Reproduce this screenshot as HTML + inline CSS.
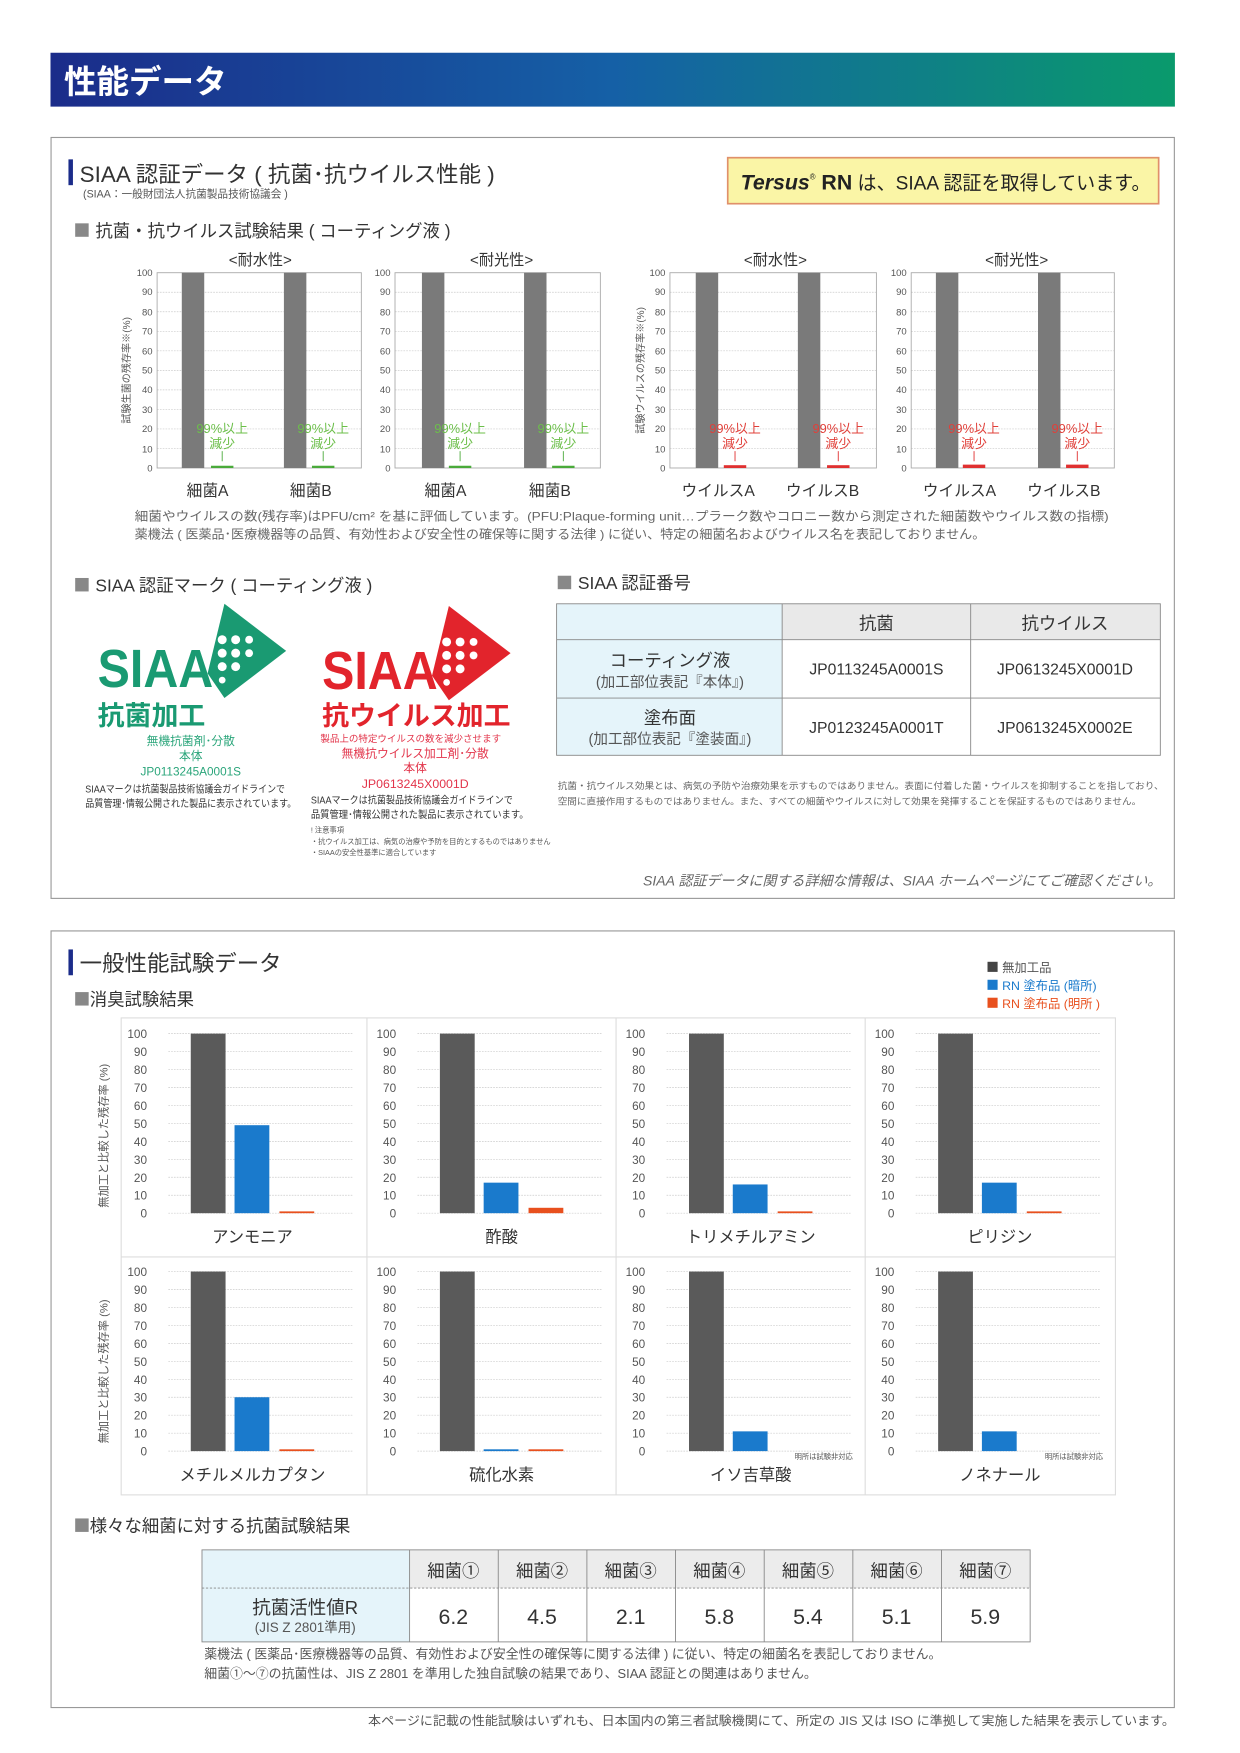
<!DOCTYPE html>
<html><head><meta charset="utf-8"><style>
html,body{margin:0;padding:0;background:#fff;}
svg{display:block;font-family:"Liberation Sans","Noto Sans CJK JP",sans-serif;}
.t{fill:#333}.g{fill:#555}.s{fill:#666}
.grid line{stroke:#ccc;stroke-width:0.6;stroke-dasharray:1.5 1}
</style></head><body>
<svg width="1240" height="1753" viewBox="0 0 1105 1562" preserveAspectRatio="none" xmlns="http://www.w3.org/2000/svg">
<defs>
<linearGradient id="hg" x1="0" x2="1" y1="0" y2="0"><stop offset="0" stop-color="#1b2c8a"/><stop offset="0.5" stop-color="#1560a6"/><stop offset="1" stop-color="#0a9a6c"/></linearGradient>
</defs>
<rect width="1105" height="1562" fill="#fff"/>
<rect x="45" y="47" width="1002" height="48" fill="url(#hg)"/>
<text x="57" y="83" font-size="29" fill="#fff" font-weight="bold">性能データ</text>

<rect x="45.5" y="122.5" width="1001" height="678" fill="none" stroke="#999" stroke-width="1"/>
<rect x="61" y="142" width="4" height="23" fill="#1b2c8a"/>
<text x="71" y="162" font-size="20" class="t">SIAA 認証データ ( 抗菌･抗ウイルス性能 )</text>
<text x="74" y="176" font-size="9.5" class="g">(SIAA：一般財団法人抗菌製品技術協議会 )</text>
<rect x="648.5" y="140.5" width="384" height="41" fill="#faf5a6" stroke="#e0906a" stroke-width="1.5"/>
<text x="660" y="169" font-size="19" fill="#222"><tspan font-weight="bold" font-style="italic">Tersus</tspan><tspan font-size="7" dy="-9">®</tspan><tspan dy="9" font-weight="bold"> RN</tspan><tspan font-size="17"> は、SIAA 認証を取得しています。</tspan></text>
<rect x="67" y="199" width="12" height="12" fill="#888"/>
<text x="85" y="211" font-size="15.5" class="t">抗菌・抗ウイルス試験結果 ( コーティング液 )</text>

<g font-size="13.5" class="t" text-anchor="middle">
<text x="232" y="236">&lt;耐水性&gt;</text><text x="447" y="236">&lt;耐光性&gt;</text>
<text x="691" y="236">&lt;耐水性&gt;</text><text x="906" y="236">&lt;耐光性&gt;</text>
</g>
<g class="grid">
<line x1="140" x2="322" y1="260.4" y2="260.4"/><line x1="140" x2="322" y1="277.8" y2="277.8"/><line x1="140" x2="322" y1="295.2" y2="295.2"/><line x1="140" x2="322" y1="312.6" y2="312.6"/><line x1="140" x2="322" y1="330" y2="330"/><line x1="140" x2="322" y1="347.4" y2="347.4"/><line x1="140" x2="322" y1="364.8" y2="364.8"/><line x1="140" x2="322" y1="382.2" y2="382.2"/><line x1="140" x2="322" y1="399.6" y2="399.6"/>
<line x1="352" x2="535" y1="260.4" y2="260.4"/><line x1="352" x2="535" y1="277.8" y2="277.8"/><line x1="352" x2="535" y1="295.2" y2="295.2"/><line x1="352" x2="535" y1="312.6" y2="312.6"/><line x1="352" x2="535" y1="330" y2="330"/><line x1="352" x2="535" y1="347.4" y2="347.4"/><line x1="352" x2="535" y1="364.8" y2="364.8"/><line x1="352" x2="535" y1="382.2" y2="382.2"/><line x1="352" x2="535" y1="399.6" y2="399.6"/>
<line x1="597" x2="781" y1="260.4" y2="260.4"/><line x1="597" x2="781" y1="277.8" y2="277.8"/><line x1="597" x2="781" y1="295.2" y2="295.2"/><line x1="597" x2="781" y1="312.6" y2="312.6"/><line x1="597" x2="781" y1="330" y2="330"/><line x1="597" x2="781" y1="347.4" y2="347.4"/><line x1="597" x2="781" y1="364.8" y2="364.8"/><line x1="597" x2="781" y1="382.2" y2="382.2"/><line x1="597" x2="781" y1="399.6" y2="399.6"/>
<line x1="812" x2="993" y1="260.4" y2="260.4"/><line x1="812" x2="993" y1="277.8" y2="277.8"/><line x1="812" x2="993" y1="295.2" y2="295.2"/><line x1="812" x2="993" y1="312.6" y2="312.6"/><line x1="812" x2="993" y1="330" y2="330"/><line x1="812" x2="993" y1="347.4" y2="347.4"/><line x1="812" x2="993" y1="364.8" y2="364.8"/><line x1="812" x2="993" y1="382.2" y2="382.2"/><line x1="812" x2="993" y1="399.6" y2="399.6"/>
</g>
<g fill="none" stroke="#aaa" stroke-width="0.8">
<rect x="140" y="243" width="182" height="174"/><rect x="352" y="243" width="183" height="174"/><rect x="597" y="243" width="184" height="174"/><rect x="812" y="243" width="181" height="174"/>
</g>
<g fill="#7a7a7a">
<rect x="162" y="243" width="20" height="174"/><rect x="253" y="243" width="20" height="174"/>
<rect x="376" y="243" width="20" height="174"/><rect x="467" y="243" width="20" height="174"/>
<rect x="620" y="243" width="20" height="174"/><rect x="711" y="243" width="20" height="174"/>
<rect x="834" y="243" width="20" height="174"/><rect x="925" y="243" width="20" height="174"/>
</g>
<g fill="#4aaa3a">
<rect x="188" y="415" width="20" height="2"/><rect x="278" y="415" width="20" height="2"/>
<rect x="400" y="415" width="20" height="2"/><rect x="492" y="415" width="20" height="2"/>
</g>
<g fill="#e03030">
<rect x="645" y="414.5" width="20" height="2.5"/><rect x="737" y="414.5" width="20" height="2.5"/>
<rect x="858" y="414" width="20" height="3"/><rect x="950" y="414" width="20" height="3"/>
</g>
<g font-size="11.5" text-anchor="middle" fill="#6cbf4a">
<text x="198" y="386">99%以上</text><text x="198" y="399">減少</text>
<text x="288" y="386">99%以上</text><text x="288" y="399">減少</text>
<text x="410" y="386">99%以上</text><text x="410" y="399">減少</text>
<text x="502" y="386">99%以上</text><text x="502" y="399">減少</text>
</g>
<g font-size="11.5" text-anchor="middle" fill="#e0403a">
<text x="655" y="386">99%以上</text><text x="655" y="399">減少</text>
<text x="747" y="386">99%以上</text><text x="747" y="399">減少</text>
<text x="868" y="386">99%以上</text><text x="868" y="399">減少</text>
<text x="960" y="386">99%以上</text><text x="960" y="399">減少</text>
</g>
<g stroke-width="0.8">
<line x1="198" x2="198" y1="402" y2="411" stroke="#4aaa3a"/><line x1="288" x2="288" y1="402" y2="411" stroke="#4aaa3a"/>
<line x1="410" x2="410" y1="402" y2="411" stroke="#4aaa3a"/><line x1="502" x2="502" y1="402" y2="411" stroke="#4aaa3a"/>
<line x1="655" x2="655" y1="402" y2="411" stroke="#e03030"/><line x1="747" x2="747" y1="402" y2="411" stroke="#e03030"/>
<line x1="868" x2="868" y1="402" y2="411" stroke="#e03030"/><line x1="960" x2="960" y1="402" y2="411" stroke="#e03030"/>
</g>
<g font-size="8.5" class="g" text-anchor="end">
<text x="136" y="246">100</text><text x="136" y="263">90</text><text x="136" y="281">80</text><text x="136" y="298">70</text><text x="136" y="316">60</text><text x="136" y="333">50</text><text x="136" y="350">40</text><text x="136" y="368">30</text><text x="136" y="385">20</text><text x="136" y="403">10</text><text x="136" y="420">0</text>
<text x="348" y="246">100</text><text x="348" y="263">90</text><text x="348" y="281">80</text><text x="348" y="298">70</text><text x="348" y="316">60</text><text x="348" y="333">50</text><text x="348" y="350">40</text><text x="348" y="368">30</text><text x="348" y="385">20</text><text x="348" y="403">10</text><text x="348" y="420">0</text>
<text x="593" y="246">100</text><text x="593" y="263">90</text><text x="593" y="281">80</text><text x="593" y="298">70</text><text x="593" y="316">60</text><text x="593" y="333">50</text><text x="593" y="350">40</text><text x="593" y="368">30</text><text x="593" y="385">20</text><text x="593" y="403">10</text><text x="593" y="420">0</text>
<text x="808" y="246">100</text><text x="808" y="263">90</text><text x="808" y="281">80</text><text x="808" y="298">70</text><text x="808" y="316">60</text><text x="808" y="333">50</text><text x="808" y="350">40</text><text x="808" y="368">30</text><text x="808" y="385">20</text><text x="808" y="403">10</text><text x="808" y="420">0</text>
</g>
<text transform="translate(116,330) rotate(-90)" font-size="9" class="g" text-anchor="middle">試験生菌の残存率※(%)</text>
<text transform="translate(574,330) rotate(-90)" font-size="9" class="g" text-anchor="middle">試験ウイルスの残存率※(%)</text>
<g font-size="14" class="t" text-anchor="middle">
<text x="185" y="442">細菌A</text><text x="277" y="442">細菌B</text><text x="397" y="442">細菌A</text><text x="490" y="442">細菌B</text>
<text x="640" y="442">ウイルスA</text><text x="733" y="442">ウイルスB</text><text x="855" y="442">ウイルスA</text><text x="948" y="442">ウイルスB</text>
</g>
<text x="120" y="464" font-size="11" class="s" textLength="868" lengthAdjust="spacingAndGlyphs">細菌やウイルスの数(残存率)はPFU/cm² を基に評価しています。(PFU:Plaque-forming unit…プラーク数やコロニー数から測定された細菌数やウイルス数の指標)</text>
<text x="120" y="480" font-size="11" class="s" textLength="758" lengthAdjust="spacingAndGlyphs">薬機法 ( 医薬品･医療機器等の品質、有効性および安全性の確保等に関する法律 ) に従い、特定の細菌名およびウイルス名を表記しておりません。</text>

<rect x="67" y="515" width="12" height="12" fill="#888"/>
<text x="85" y="527" font-size="15.5" class="t">SIAA 認証マーク ( コーティング液 )</text>
<rect x="497" y="513" width="12" height="12" fill="#888"/>
<text x="515" y="525" font-size="15.5" class="t">SIAA 認証番号</text>

<polygon points="200,538 255,580 200,622 185,600" fill="#1a9a72"/>
<g fill="#fff"><circle cx="198" cy="570" r="4"/><circle cx="210" cy="570" r="4"/><circle cx="222" cy="570" r="3.5"/><circle cx="198" cy="582" r="4"/><circle cx="210" cy="582" r="4"/><circle cx="222" cy="582" r="3.5"/><circle cx="198" cy="594" r="4"/><circle cx="210" cy="594" r="4"/><circle cx="198" cy="606" r="3"/></g>
<text x="87" y="612" font-size="48" font-weight="bold" fill="#1a9a72" textLength="103" lengthAdjust="spacingAndGlyphs">SIAA</text>
<text x="87" y="646" font-size="24" font-weight="bold" fill="#1a9a72">抗菌加工</text>
<g font-size="10.5" fill="#2aa57a" text-anchor="middle"><text x="170" y="664">無機抗菌剤･分散</text><text x="170" y="677">本体</text><text x="170" y="691">JP0113245A0001S</text></g>
<text x="76" y="706" font-size="9" fill="#333" textLength="178" lengthAdjust="spacingAndGlyphs">SIAAマークは抗菌製品技術協議会ガイドラインで</text>
<text x="76" y="719" font-size="9" fill="#333" textLength="188" lengthAdjust="spacingAndGlyphs">品質管理･情報公開された製品に表示されています。</text>

<polygon points="400,540 455,582 400,624 385,602" fill="#e2242c"/>
<g fill="#fff"><circle cx="398" cy="572" r="4"/><circle cx="410" cy="572" r="4"/><circle cx="422" cy="572" r="3.5"/><circle cx="398" cy="584" r="4"/><circle cx="410" cy="584" r="4"/><circle cx="422" cy="584" r="3.5"/><circle cx="398" cy="596" r="4"/><circle cx="410" cy="596" r="4"/><circle cx="398" cy="608" r="3"/></g>
<text x="287" y="614" font-size="48" font-weight="bold" fill="#e2242c" textLength="103" lengthAdjust="spacingAndGlyphs">SIAA</text>
<text x="287" y="646" font-size="24" font-weight="bold" fill="#e2242c">抗ウイルス加工</text>
<g fill="#e2344a" text-anchor="middle"><text x="366" y="661" font-size="8.5">製品上の特定ウイルスの数を減少させます</text><text x="370" y="675" font-size="10.5">無機抗ウイルス加工剤･分散</text><text x="370" y="688" font-size="10.5">本体</text><text x="370" y="702" font-size="11">JP0613245X0001D</text></g>
<text x="277" y="716" font-size="9" fill="#333" textLength="180" lengthAdjust="spacingAndGlyphs">SIAAマークは抗菌製品技術協議会ガイドラインで</text>
<text x="277" y="729" font-size="9" fill="#333" textLength="194" lengthAdjust="spacingAndGlyphs">品質管理･情報公開された製品に表示されています。</text>
<g font-size="6.5" fill="#555"><text x="277" y="742">! 注意事項</text><text x="277" y="752">・抗ウイルス加工は、病気の治療や予防を目的とするものではありません</text><text x="277" y="762">・SIAAの安全性基準に適合しています</text></g>

<rect x="496" y="538" width="201" height="135" fill="#e5f4fa"/>
<rect x="697" y="538" width="337" height="32" fill="#e9e9e9"/>
<g stroke="#888" stroke-width="0.8" fill="none">
<rect x="496" y="538" width="538" height="135"/>
<line x1="697" x2="697" y1="538" y2="673"/><line x1="865" x2="865" y1="538" y2="673"/>
<line x1="496" x2="1034" y1="570" y2="570"/><line x1="496" x2="1034" y1="622" y2="622"/>
</g>
<g text-anchor="middle" class="t">
<text x="781" y="561" font-size="15.5">抗菌</text><text x="949" y="561" font-size="15.5">抗ウイルス</text>
<text x="597" y="594" font-size="15.5">コーティング液</text><text x="597" y="612" font-size="13" class="g">(加工部位表記『本体』)</text>
<text x="597" y="645" font-size="15.5">塗布面</text><text x="597" y="663" font-size="13" class="g">(加工部位表記『塗装面』)</text>
<text x="781" y="601" font-size="14">JP0113245A0001S</text><text x="949" y="601" font-size="14">JP0613245X0001D</text>
<text x="781" y="653" font-size="14">JP0123245A0001T</text><text x="949" y="653" font-size="14">JP0613245X0002E</text>
</g>
<text x="497" y="703" font-size="8.2" class="s" textLength="540" lengthAdjust="spacingAndGlyphs">抗菌・抗ウイルス効果とは、病気の予防や治療効果を示すものではありません。表面に付着した菌・ウイルスを抑制することを指しており、</text>
<text x="497" y="717" font-size="8.2" class="s" textLength="520" lengthAdjust="spacingAndGlyphs">空間に直接作用するものではありません。また、すべての細菌やウイルスに対して効果を発揮することを保証するものではありません。</text>
<text x="1035" y="789" font-size="12.5" class="s" font-style="italic" text-anchor="end">SIAA 認証データに関する詳細な情報は、SIAA ホームページにてご確認ください。</text>

<rect x="45.5" y="829.5" width="1001" height="692" fill="none" stroke="#999" stroke-width="1"/>
<rect x="61" y="846" width="4" height="23" fill="#1b2c8a"/>
<text x="71" y="865" font-size="20" class="t">一般性能試験データ</text>
<rect x="67" y="884" width="12" height="12" fill="#888"/>
<text x="80" y="896" font-size="15.5" class="t">消臭試験結果</text>
<rect x="880" y="857" width="9" height="9" fill="#444"/><text x="893" y="866" font-size="11" class="g">無加工品</text>
<rect x="880" y="873" width="9" height="9" fill="#1a7acc"/><text x="893" y="882" font-size="11" fill="#1a7acc">RN 塗布品 (暗所)</text>
<rect x="880" y="889" width="9" height="9" fill="#e8501e"/><text x="893" y="898" font-size="11" fill="#e8501e">RN 塗布品 (明所 )</text>

<g fill="none" stroke="#ddd" stroke-width="1">
<rect x="108" y="907" width="886" height="425"/>
<line x1="327" x2="327" y1="907" y2="1332"/><line x1="549" x2="549" y1="907" y2="1332"/><line x1="771" x2="771" y1="907" y2="1332"/>
<line x1="108" x2="994" y1="1120" y2="1120"/>
</g>
<g class="grid">
<line x1="150" x2="315" y1="921" y2="921"/><line x1="150" x2="315" y1="937" y2="937"/><line x1="150" x2="315" y1="953" y2="953"/><line x1="150" x2="315" y1="969" y2="969"/><line x1="150" x2="315" y1="985" y2="985"/><line x1="150" x2="315" y1="1001" y2="1001"/><line x1="150" x2="315" y1="1017" y2="1017"/><line x1="150" x2="315" y1="1033" y2="1033"/><line x1="150" x2="315" y1="1049" y2="1049"/><line x1="150" x2="315" y1="1065" y2="1065"/><line x1="150" x2="315" y1="1081" y2="1081"/>
<line x1="372" x2="537" y1="921" y2="921"/><line x1="372" x2="537" y1="937" y2="937"/><line x1="372" x2="537" y1="953" y2="953"/><line x1="372" x2="537" y1="969" y2="969"/><line x1="372" x2="537" y1="985" y2="985"/><line x1="372" x2="537" y1="1001" y2="1001"/><line x1="372" x2="537" y1="1017" y2="1017"/><line x1="372" x2="537" y1="1033" y2="1033"/><line x1="372" x2="537" y1="1049" y2="1049"/><line x1="372" x2="537" y1="1065" y2="1065"/><line x1="372" x2="537" y1="1081" y2="1081"/>
<line x1="594" x2="759" y1="921" y2="921"/><line x1="594" x2="759" y1="937" y2="937"/><line x1="594" x2="759" y1="953" y2="953"/><line x1="594" x2="759" y1="969" y2="969"/><line x1="594" x2="759" y1="985" y2="985"/><line x1="594" x2="759" y1="1001" y2="1001"/><line x1="594" x2="759" y1="1017" y2="1017"/><line x1="594" x2="759" y1="1033" y2="1033"/><line x1="594" x2="759" y1="1049" y2="1049"/><line x1="594" x2="759" y1="1065" y2="1065"/><line x1="594" x2="759" y1="1081" y2="1081"/>
<line x1="816" x2="981" y1="921" y2="921"/><line x1="816" x2="981" y1="937" y2="937"/><line x1="816" x2="981" y1="953" y2="953"/><line x1="816" x2="981" y1="969" y2="969"/><line x1="816" x2="981" y1="985" y2="985"/><line x1="816" x2="981" y1="1001" y2="1001"/><line x1="816" x2="981" y1="1017" y2="1017"/><line x1="816" x2="981" y1="1033" y2="1033"/><line x1="816" x2="981" y1="1049" y2="1049"/><line x1="816" x2="981" y1="1065" y2="1065"/><line x1="816" x2="981" y1="1081" y2="1081"/>
<line x1="150" x2="315" y1="1133" y2="1133"/><line x1="150" x2="315" y1="1149" y2="1149"/><line x1="150" x2="315" y1="1165" y2="1165"/><line x1="150" x2="315" y1="1181" y2="1181"/><line x1="150" x2="315" y1="1197" y2="1197"/><line x1="150" x2="315" y1="1213" y2="1213"/><line x1="150" x2="315" y1="1229" y2="1229"/><line x1="150" x2="315" y1="1245" y2="1245"/><line x1="150" x2="315" y1="1261" y2="1261"/><line x1="150" x2="315" y1="1277" y2="1277"/><line x1="150" x2="315" y1="1293" y2="1293"/>
<line x1="372" x2="537" y1="1133" y2="1133"/><line x1="372" x2="537" y1="1149" y2="1149"/><line x1="372" x2="537" y1="1165" y2="1165"/><line x1="372" x2="537" y1="1181" y2="1181"/><line x1="372" x2="537" y1="1197" y2="1197"/><line x1="372" x2="537" y1="1213" y2="1213"/><line x1="372" x2="537" y1="1229" y2="1229"/><line x1="372" x2="537" y1="1245" y2="1245"/><line x1="372" x2="537" y1="1261" y2="1261"/><line x1="372" x2="537" y1="1277" y2="1277"/><line x1="372" x2="537" y1="1293" y2="1293"/>
<line x1="594" x2="759" y1="1133" y2="1133"/><line x1="594" x2="759" y1="1149" y2="1149"/><line x1="594" x2="759" y1="1165" y2="1165"/><line x1="594" x2="759" y1="1181" y2="1181"/><line x1="594" x2="759" y1="1197" y2="1197"/><line x1="594" x2="759" y1="1213" y2="1213"/><line x1="594" x2="759" y1="1229" y2="1229"/><line x1="594" x2="759" y1="1245" y2="1245"/><line x1="594" x2="759" y1="1261" y2="1261"/><line x1="594" x2="759" y1="1277" y2="1277"/><line x1="594" x2="759" y1="1293" y2="1293"/>
<line x1="816" x2="981" y1="1133" y2="1133"/><line x1="816" x2="981" y1="1149" y2="1149"/><line x1="816" x2="981" y1="1165" y2="1165"/><line x1="816" x2="981" y1="1181" y2="1181"/><line x1="816" x2="981" y1="1197" y2="1197"/><line x1="816" x2="981" y1="1213" y2="1213"/><line x1="816" x2="981" y1="1229" y2="1229"/><line x1="816" x2="981" y1="1245" y2="1245"/><line x1="816" x2="981" y1="1261" y2="1261"/><line x1="816" x2="981" y1="1277" y2="1277"/><line x1="816" x2="981" y1="1293" y2="1293"/>
</g>
<g font-size="10.5" class="g" text-anchor="end">
<text x="131" y="925">100</text><text x="131" y="941">90</text><text x="131" y="957">80</text><text x="131" y="973">70</text><text x="131" y="989">60</text><text x="131" y="1005">50</text><text x="131" y="1021">40</text><text x="131" y="1037">30</text><text x="131" y="1053">20</text><text x="131" y="1069">10</text><text x="131" y="1085">0</text>
<text x="353" y="925">100</text><text x="353" y="941">90</text><text x="353" y="957">80</text><text x="353" y="973">70</text><text x="353" y="989">60</text><text x="353" y="1005">50</text><text x="353" y="1021">40</text><text x="353" y="1037">30</text><text x="353" y="1053">20</text><text x="353" y="1069">10</text><text x="353" y="1085">0</text>
<text x="575" y="925">100</text><text x="575" y="941">90</text><text x="575" y="957">80</text><text x="575" y="973">70</text><text x="575" y="989">60</text><text x="575" y="1005">50</text><text x="575" y="1021">40</text><text x="575" y="1037">30</text><text x="575" y="1053">20</text><text x="575" y="1069">10</text><text x="575" y="1085">0</text>
<text x="797" y="925">100</text><text x="797" y="941">90</text><text x="797" y="957">80</text><text x="797" y="973">70</text><text x="797" y="989">60</text><text x="797" y="1005">50</text><text x="797" y="1021">40</text><text x="797" y="1037">30</text><text x="797" y="1053">20</text><text x="797" y="1069">10</text><text x="797" y="1085">0</text>
<text x="131" y="1137">100</text><text x="131" y="1153">90</text><text x="131" y="1169">80</text><text x="131" y="1185">70</text><text x="131" y="1201">60</text><text x="131" y="1217">50</text><text x="131" y="1233">40</text><text x="131" y="1249">30</text><text x="131" y="1265">20</text><text x="131" y="1281">10</text><text x="131" y="1297">0</text>
<text x="353" y="1137">100</text><text x="353" y="1153">90</text><text x="353" y="1169">80</text><text x="353" y="1185">70</text><text x="353" y="1201">60</text><text x="353" y="1217">50</text><text x="353" y="1233">40</text><text x="353" y="1249">30</text><text x="353" y="1265">20</text><text x="353" y="1281">10</text><text x="353" y="1297">0</text>
<text x="575" y="1137">100</text><text x="575" y="1153">90</text><text x="575" y="1169">80</text><text x="575" y="1185">70</text><text x="575" y="1201">60</text><text x="575" y="1217">50</text><text x="575" y="1233">40</text><text x="575" y="1249">30</text><text x="575" y="1265">20</text><text x="575" y="1281">10</text><text x="575" y="1297">0</text>
<text x="797" y="1137">100</text><text x="797" y="1153">90</text><text x="797" y="1169">80</text><text x="797" y="1185">70</text><text x="797" y="1201">60</text><text x="797" y="1217">50</text><text x="797" y="1233">40</text><text x="797" y="1249">30</text><text x="797" y="1265">20</text><text x="797" y="1281">10</text><text x="797" y="1297">0</text>
</g>
<text transform="translate(96,1012) rotate(-90)" font-size="10" class="g" text-anchor="middle">無加工と比較した残存率 (%)</text>
<text transform="translate(96,1222) rotate(-90)" font-size="10" class="g" text-anchor="middle">無加工と比較した残存率 (%)</text>
<g fill="#5a5a5a">
<rect x="170" y="921" width="31" height="160"/><rect x="392" y="921" width="31" height="160"/><rect x="614" y="921" width="31" height="160"/><rect x="836" y="921" width="31" height="160"/>
<rect x="170" y="1133" width="31" height="160"/><rect x="392" y="1133" width="31" height="160"/><rect x="614" y="1133" width="31" height="160"/><rect x="836" y="1133" width="31" height="160"/>
</g>
<g fill="#1a7acc">
<rect x="209" y="1002.6" width="31" height="78.4"/><rect x="431" y="1053.8" width="31" height="27.2"/><rect x="653" y="1055.4" width="31" height="25.6"/><rect x="875" y="1053.8" width="31" height="27.2"/>
<rect x="209" y="1245" width="31" height="48"/><rect x="431" y="1291.4" width="31" height="1.6"/><rect x="653" y="1275.4" width="31" height="17.6"/><rect x="875" y="1275.4" width="31" height="17.6"/>
</g>
<g fill="#e8501e">
<rect x="249" y="1079.4" width="31" height="1.6"/><rect x="471" y="1076.2" width="31" height="4.8"/><rect x="693" y="1079.4" width="31" height="1.6"/><rect x="915" y="1079.4" width="31" height="1.6"/>
<rect x="249" y="1291.4" width="31" height="1.6"/><rect x="471" y="1291.4" width="31" height="1.6"/>
</g>
<g font-size="6.5" class="g" text-anchor="end"><text x="760" y="1300">明所は試験非対応</text><text x="983" y="1300">明所は試験非対応</text></g>
<g font-size="14.5" class="t" text-anchor="middle">
<text x="225" y="1107">アンモニア</text><text x="447" y="1107">酢酸</text><text x="669" y="1107">トリメチルアミン</text><text x="891" y="1107">ピリジン</text>
<text x="225" y="1319">メチルメルカプタン</text><text x="447" y="1319">硫化水素</text><text x="669" y="1319">イソ吉草酸</text><text x="891" y="1319">ノネナール</text>
</g>

<rect x="67" y="1353" width="12" height="12" fill="#888"/>
<text x="80" y="1365" font-size="15.5" class="t">様々な細菌に対する抗菌試験結果</text>
<rect x="180" y="1381" width="185" height="82" fill="#e5f4fa"/>
<rect x="365" y="1381" width="553" height="34" fill="#ececec"/>
<g stroke="#888" stroke-width="0.8" fill="none">
<rect x="180" y="1381" width="738" height="82"/>
<line x1="365" x2="365" y1="1381" y2="1463"/><line x1="444" x2="444" y1="1381" y2="1463"/><line x1="523" x2="523" y1="1381" y2="1463"/><line x1="602" x2="602" y1="1381" y2="1463"/><line x1="681" x2="681" y1="1381" y2="1463"/><line x1="760" x2="760" y1="1381" y2="1463"/><line x1="839" x2="839" y1="1381" y2="1463"/>
<line x1="180" x2="918" y1="1415" y2="1415" stroke-dasharray="2 1.5"/>
</g>
<g text-anchor="middle" class="t">
<g font-size="15.5"><text x="404" y="1405">細菌①</text><text x="483" y="1405">細菌②</text><text x="562" y="1405">細菌③</text><text x="641" y="1405">細菌④</text><text x="720" y="1405">細菌⑤</text><text x="799" y="1405">細菌⑥</text><text x="878" y="1405">細菌⑦</text></g>
<g font-size="19"><text x="404" y="1447">6.2</text><text x="483" y="1447">4.5</text><text x="562" y="1447">2.1</text><text x="641" y="1447">5.8</text><text x="720" y="1447">5.4</text><text x="799" y="1447">5.1</text><text x="878" y="1447">5.9</text></g>
<text x="272" y="1438" font-size="16.5">抗菌活性値R</text>
<text x="272" y="1454" font-size="12" class="g">(JIS Z 2801準用)</text>
</g>
<text x="182" y="1478" font-size="11.5" class="g">薬機法 ( 医薬品･医療機器等の品質、有効性および安全性の確保等に関する法律 ) に従い、特定の細菌名を表記しておりません。</text>
<text x="182" y="1495" font-size="11.5" class="g">細菌①～⑦の抗菌性は、JIS Z 2801 を準用した独自試験の結果であり、SIAA 認証との関連はありません。</text>
<text x="328" y="1537" font-size="11" class="g" textLength="719" lengthAdjust="spacingAndGlyphs">本ページに記載の性能試験はいずれも、日本国内の第三者試験機関にて、所定の JIS 又は ISO に準拠して実施した結果を表示しています。</text>
</svg>
</body></html>
